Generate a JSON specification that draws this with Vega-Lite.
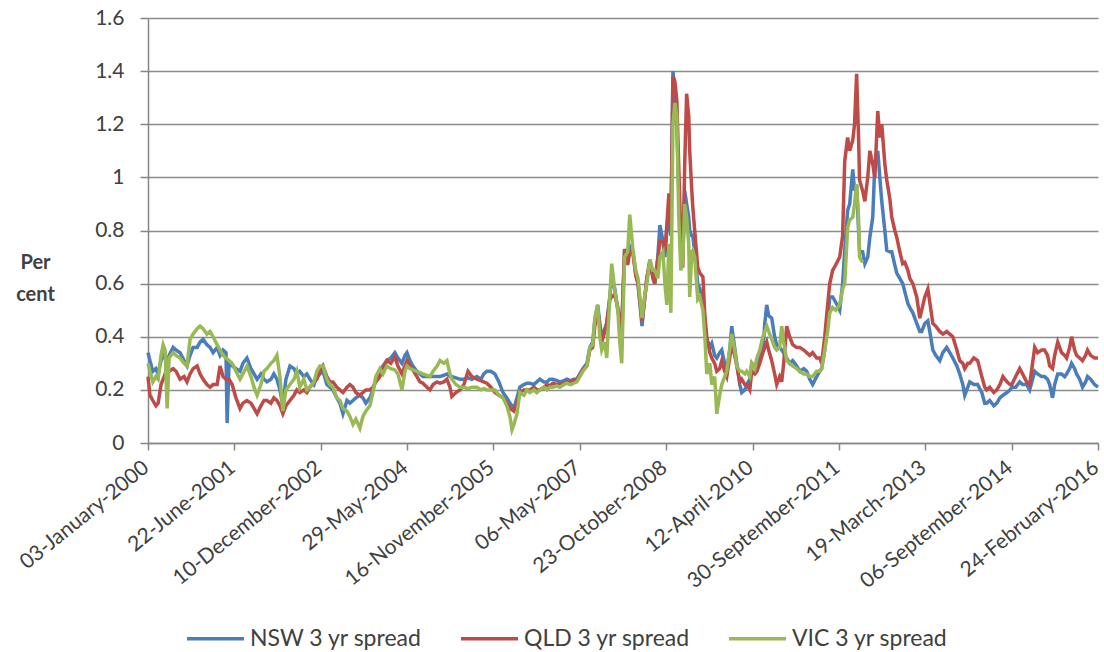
{
"$schema": "https://vega.github.io/schema/vega-lite/v6.json",
"width": 950, "height": 425,
"autosize": "none",
"padding": {"left": 148, "top": 18, "right": 6, "bottom": 209},
"background": "white",
"config": {"font": "Lato", "view": {"stroke": null}},
"datasets": {
"NSW": [
{"d":"2000-01-03","v":0.34},{"d":"2000-01-15","v":0.31},{"d":"2000-02-02","v":0.27},{"d":"2000-02-21","v":0.28},{"d":"2000-03-06","v":0.26},{"d":"2000-03-24","v":0.31},{"d":"2000-04-06","v":0.33},{"d":"2000-04-18","v":0.32},{"d":"2000-05-01","v":0.30},{"d":"2000-05-13","v":0.33},{"d":"2000-06-07","v":0.36},{"d":"2000-06-25","v":0.35},{"d":"2000-07-20","v":0.34},{"d":"2000-08-14","v":0.31},{"d":"2000-09-01","v":0.29},{"d":"2000-09-20","v":0.33},{"d":"2000-10-09","v":0.36},{"d":"2000-11-03","v":0.36},{"d":"2000-11-21","v":0.38},{"d":"2000-12-10","v":0.39},
{"d":"2001-01-03","v":0.37},{"d":"2001-01-22","v":0.36},{"d":"2001-02-10","v":0.34},{"d":"2001-03-07","v":0.36},{"d":"2001-03-25","v":0.33},{"d":"2001-04-13","v":0.35},{"d":"2001-05-01","v":0.34},{"d":"2001-05-08","v":0.075},{"d":"2001-05-20","v":0.30},{"d":"2001-06-08","v":0.29},{"d":"2001-07-02","v":0.28},{"d":"2001-07-27","v":0.27},{"d":"2001-08-14","v":0.30},{"d":"2001-09-08","v":0.32},{"d":"2001-10-03","v":0.28},{"d":"2001-10-22","v":0.26},{"d":"2001-11-10","v":0.24},{"d":"2001-12-04","v":0.26},{"d":"2001-12-23","v":0.24},
{"d":"2002-01-10","v":0.23},{"d":"2002-02-04","v":0.24},{"d":"2002-02-22","v":0.26},{"d":"2002-03-13","v":0.24},{"d":"2002-04-01","v":0.20},{"d":"2002-04-19","v":0.14},{"d":"2002-05-08","v":0.24},{"d":"2002-06-02","v":0.29},{"d":"2002-06-27","v":0.28},{"d":"2002-07-15","v":0.26},{"d":"2002-08-02","v":0.27},{"d":"2002-08-27","v":0.25},{"d":"2002-09-15","v":0.26},{"d":"2002-10-04","v":0.24},{"d":"2002-10-29","v":0.22},{"d":"2002-11-16","v":0.25},{"d":"2002-12-05","v":0.26},{"d":"2002-12-24","v":0.27},
{"d":"2003-01-17","v":0.22},{"d":"2003-02-05","v":0.21},{"d":"2003-02-24","v":0.20},{"d":"2003-03-20","v":0.17},{"d":"2003-04-08","v":0.15},{"d":"2003-04-27","v":0.11},{"d":"2003-05-22","v":0.16},{"d":"2003-06-09","v":0.15},{"d":"2003-06-28","v":0.16},{"d":"2003-07-16","v":0.17},{"d":"2003-08-10","v":0.18},{"d":"2003-08-29","v":0.17},{"d":"2003-09-16","v":0.15},{"d":"2003-10-11","v":0.17},{"d":"2003-10-30","v":0.20},{"d":"2003-11-17","v":0.24},{"d":"2003-12-12","v":0.27},{"d":"2003-12-31","v":0.29},
{"d":"2004-01-24","v":0.31},{"d":"2004-02-18","v":0.32},{"d":"2004-03-14","v":0.34},{"d":"2004-04-02","v":0.32},{"d":"2004-04-27","v":0.30},{"d":"2004-05-16","v":0.33},{"d":"2004-05-28","v":0.34},{"d":"2004-06-16","v":0.31},{"d":"2004-07-04","v":0.29},{"d":"2004-07-29","v":0.27},{"d":"2004-08-17","v":0.26},{"d":"2004-09-04","v":0.25},{"d":"2004-09-29","v":0.25},{"d":"2004-10-18","v":0.25},{"d":"2004-11-06","v":0.25},{"d":"2004-12-01","v":0.25},{"d":"2004-12-19","v":0.25},
{"d":"2005-01-12","v":0.255},{"d":"2005-01-31","v":0.26},{"d":"2005-02-19","v":0.25},{"d":"2005-03-03","v":0.25},{"d":"2005-03-28","v":0.245},{"d":"2005-04-22","v":0.24},{"d":"2005-05-17","v":0.24},{"d":"2005-06-11","v":0.245},{"d":"2005-07-05","v":0.24},{"d":"2005-08-05","v":0.25},{"d":"2005-08-30","v":0.24},{"d":"2005-09-17","v":0.26},{"d":"2005-10-06","v":0.27},{"d":"2005-10-31","v":0.27},{"d":"2005-11-25","v":0.26},{"d":"2005-12-20","v":0.23},
{"d":"2006-01-14","v":0.19},{"d":"2006-02-07","v":0.17},{"d":"2006-02-26","v":0.15},{"d":"2006-03-11","v":0.14},{"d":"2006-03-23","v":0.13},{"d":"2006-04-11","v":0.17},{"d":"2006-04-29","v":0.21},{"d":"2006-05-24","v":0.22},{"d":"2006-06-12","v":0.225},{"d":"2006-06-30","v":0.225},{"d":"2006-07-25","v":0.22},{"d":"2006-08-12","v":0.23},{"d":"2006-08-31","v":0.24},{"d":"2006-09-25","v":0.23},{"d":"2006-10-14","v":0.23},{"d":"2006-11-01","v":0.24},{"d":"2006-11-20","v":0.24},{"d":"2006-12-15","v":0.235},
{"d":"2007-01-02","v":0.23},{"d":"2007-01-27","v":0.235},{"d":"2007-02-14","v":0.24},{"d":"2007-03-11","v":0.235},{"d":"2007-03-29","v":0.24},{"d":"2007-04-17","v":0.24},{"d":"2007-05-06","v":0.26},{"d":"2007-05-25","v":0.28},{"d":"2007-06-19","v":0.30},{"d":"2007-07-07","v":0.36},{"d":"2007-07-25","v":0.38},{"d":"2007-08-07","v":0.46},{"d":"2007-08-25","v":0.52},{"d":"2007-09-07","v":0.45},{"d":"2007-09-19","v":0.40},{"d":"2007-10-08","v":0.43},{"d":"2007-10-20","v":0.45},{"d":"2007-11-08","v":0.55},{"d":"2007-11-20","v":0.62},{"d":"2007-12-09","v":0.58},{"d":"2007-12-28","v":0.50},
{"d":"2008-01-09","v":0.46},{"d":"2008-01-21","v":0.42},{"d":"2008-02-08","v":0.73},{"d":"2008-02-27","v":0.68},{"d":"2008-03-11","v":0.74},{"d":"2008-03-30","v":0.72},{"d":"2008-04-17","v":0.64},{"d":"2008-05-01","v":0.60},{"d":"2008-05-26","v":0.44},{"d":"2008-06-13","v":0.55},{"d":"2008-06-25","v":0.62},{"d":"2008-07-14","v":0.68},{"d":"2008-08-01","v":0.63},{"d":"2008-08-13","v":0.60},{"d":"2008-09-01","v":0.70},{"d":"2008-09-14","v":0.82},{"d":"2008-10-03","v":0.76},{"d":"2008-10-15","v":0.70},{"d":"2008-10-27","v":0.80},{"d":"2008-11-09","v":0.85},{"d":"2008-11-21","v":0.78},{"d":"2008-12-04","v":1.40},{"d":"2008-12-16","v":1.32},{"d":"2008-12-28","v":1.20},
{"d":"2009-01-09","v":0.95},{"d":"2009-01-22","v":0.70},{"d":"2009-02-03","v":0.70},{"d":"2009-02-15","v":0.95},{"d":"2009-02-27","v":0.90},{"d":"2009-03-12","v":0.85},{"d":"2009-03-18","v":0.80},{"d":"2009-03-31","v":0.78},{"d":"2009-04-06","v":0.78},{"d":"2009-04-18","v":0.72},{"d":"2009-05-07","v":0.60},{"d":"2009-05-20","v":0.58},{"d":"2009-06-08","v":0.54},{"d":"2009-06-20","v":0.45},{"d":"2009-07-02","v":0.39},{"d":"2009-07-21","v":0.36},{"d":"2009-08-02","v":0.375},{"d":"2009-08-20","v":0.33},{"d":"2009-09-02","v":0.32},{"d":"2009-09-20","v":0.34},{"d":"2009-10-03","v":0.35},{"d":"2009-10-21","v":0.30},{"d":"2009-11-03","v":0.27},{"d":"2009-11-21","v":0.35},{"d":"2009-12-04","v":0.44},{"d":"2009-12-22","v":0.36},
{"d":"2010-01-04","v":0.30},{"d":"2010-01-23","v":0.22},{"d":"2010-02-04","v":0.19},{"d":"2010-02-23","v":0.20},{"d":"2010-03-07","v":0.22},{"d":"2010-03-26","v":0.24},{"d":"2010-04-07","v":0.30},{"d":"2010-04-26","v":0.29},{"d":"2010-05-09","v":0.30},{"d":"2010-05-27","v":0.32},{"d":"2010-06-15","v":0.35},{"d":"2010-06-27","v":0.45},{"d":"2010-07-09","v":0.52},{"d":"2010-07-21","v":0.48},{"d":"2010-08-09","v":0.47},{"d":"2010-08-27","v":0.40},{"d":"2010-09-09","v":0.37},{"d":"2010-09-27","v":0.36},{"d":"2010-10-10","v":0.35},{"d":"2010-10-22","v":0.34},{"d":"2010-11-10","v":0.32},{"d":"2010-11-28","v":0.30},{"d":"2010-12-17","v":0.31},
{"d":"2011-01-11","v":0.29},{"d":"2011-01-30","v":0.27},{"d":"2011-02-24","v":0.28},{"d":"2011-03-14","v":0.27},{"d":"2011-04-02","v":0.24},{"d":"2011-04-20","v":0.22},{"d":"2011-05-15","v":0.25},{"d":"2011-06-03","v":0.27},{"d":"2011-06-15","v":0.28},{"d":"2011-07-04","v":0.35},{"d":"2011-07-22","v":0.45},{"d":"2011-08-04","v":0.55},{"d":"2011-08-22","v":0.55},{"d":"2011-09-10","v":0.53},{"d":"2011-10-05","v":0.50},{"d":"2011-10-23","v":0.60},{"d":"2011-11-05","v":0.725},{"d":"2011-11-23","v":0.875},{"d":"2011-12-06","v":0.90},{"d":"2011-12-25","v":1.03},
{"d":"2012-01-05","v":0.95},{"d":"2012-01-18","v":0.97},{"d":"2012-01-30","v":0.80},{"d":"2012-02-05","v":0.725},{"d":"2012-02-24","v":0.72},{"d":"2012-03-09","v":0.675},{"d":"2012-03-27","v":0.70},{"d":"2012-04-09","v":0.775},{"d":"2012-04-27","v":0.85},{"d":"2012-05-10","v":1.05},{"d":"2012-05-28","v":1.10},{"d":"2012-06-10","v":1.00},{"d":"2012-06-22","v":0.91},{"d":"2012-07-11","v":0.80},{"d":"2012-07-23","v":0.725},{"d":"2012-08-11","v":0.72},{"d":"2012-08-23","v":0.72},{"d":"2012-09-11","v":0.67},{"d":"2012-09-23","v":0.64},{"d":"2012-10-12","v":0.62},{"d":"2012-10-30","v":0.60},{"d":"2012-11-12","v":0.57},{"d":"2012-12-01","v":0.525},{"d":"2012-12-13","v":0.51},
{"d":"2013-01-01","v":0.49},{"d":"2013-01-25","v":0.45},{"d":"2013-02-13","v":0.42},{"d":"2013-02-25","v":0.42},{"d":"2013-03-16","v":0.45},{"d":"2013-04-04","v":0.46},{"d":"2013-04-16","v":0.42},{"d":"2013-05-05","v":0.35},{"d":"2013-05-23","v":0.33},{"d":"2013-06-17","v":0.31},{"d":"2013-07-06","v":0.34},{"d":"2013-07-30","v":0.36},{"d":"2013-08-18","v":0.34},{"d":"2013-09-06","v":0.32},{"d":"2013-10-01","v":0.29},{"d":"2013-10-19","v":0.26},{"d":"2013-11-07","v":0.22},{"d":"2013-11-19","v":0.18},{"d":"2013-12-08","v":0.21},{"d":"2013-12-20","v":0.23},
{"d":"2014-01-14","v":0.22},{"d":"2014-02-07","v":0.22},{"d":"2014-03-05","v":0.19},{"d":"2014-03-23","v":0.15},{"d":"2014-04-04","v":0.15},{"d":"2014-04-23","v":0.16},{"d":"2014-05-18","v":0.14},{"d":"2014-06-06","v":0.15},{"d":"2014-06-25","v":0.17},{"d":"2014-07-14","v":0.18},{"d":"2014-08-08","v":0.19},{"d":"2014-08-27","v":0.20},{"d":"2014-09-07","v":0.21},{"d":"2014-10-01","v":0.21},{"d":"2014-10-26","v":0.23},{"d":"2014-11-13","v":0.22},{"d":"2014-12-08","v":0.22},{"d":"2014-12-27","v":0.20},
{"d":"2015-01-14","v":0.24},{"d":"2015-01-27","v":0.27},{"d":"2015-02-14","v":0.26},{"d":"2015-03-11","v":0.25},{"d":"2015-03-29","v":0.25},{"d":"2015-04-17","v":0.24},{"d":"2015-04-30","v":0.22},{"d":"2015-05-18","v":0.17},{"d":"2015-05-31","v":0.22},{"d":"2015-06-19","v":0.26},{"d":"2015-07-13","v":0.26},{"d":"2015-08-01","v":0.25},{"d":"2015-08-13","v":0.26},{"d":"2015-09-01","v":0.28},{"d":"2015-09-13","v":0.30},{"d":"2015-10-02","v":0.28},{"d":"2015-10-14","v":0.26},{"d":"2015-11-02","v":0.24},{"d":"2015-11-20","v":0.21},{"d":"2015-12-09","v":0.23},{"d":"2015-12-21","v":0.25},
{"d":"2016-01-09","v":0.24},{"d":"2016-02-03","v":0.22},{"d":"2016-02-24","v":0.21}
],
"QLD": [
{"d":"2000-01-03","v":0.25},{"d":"2000-01-15","v":0.18},{"d":"2000-02-02","v":0.16},{"d":"2000-02-21","v":0.14},{"d":"2000-03-06","v":0.15},{"d":"2000-03-24","v":0.22},{"d":"2000-04-06","v":0.24},{"d":"2000-04-18","v":0.26},{"d":"2000-05-01","v":0.28},{"d":"2000-05-13","v":0.27},{"d":"2000-06-07","v":0.28},{"d":"2000-06-25","v":0.27},{"d":"2000-07-20","v":0.24},{"d":"2000-08-14","v":0.25},{"d":"2000-09-01","v":0.23},{"d":"2000-09-20","v":0.26},{"d":"2000-10-09","v":0.28},{"d":"2000-11-03","v":0.29},{"d":"2000-11-21","v":0.26},{"d":"2000-12-10","v":0.24},
{"d":"2001-01-03","v":0.22},{"d":"2001-01-22","v":0.21},{"d":"2001-02-10","v":0.22},{"d":"2001-03-07","v":0.22},{"d":"2001-03-25","v":0.29},{"d":"2001-04-13","v":0.25},{"d":"2001-05-01","v":0.24},{"d":"2001-05-20","v":0.24},{"d":"2001-06-08","v":0.22},{"d":"2001-07-02","v":0.17},{"d":"2001-07-27","v":0.13},{"d":"2001-08-14","v":0.15},{"d":"2001-09-08","v":0.16},{"d":"2001-10-03","v":0.15},{"d":"2001-10-22","v":0.13},{"d":"2001-11-10","v":0.11},{"d":"2001-12-04","v":0.14},{"d":"2001-12-23","v":0.16},
{"d":"2002-01-10","v":0.16},{"d":"2002-02-04","v":0.15},{"d":"2002-02-22","v":0.17},{"d":"2002-03-13","v":0.16},{"d":"2002-04-01","v":0.14},{"d":"2002-04-19","v":0.11},{"d":"2002-05-08","v":0.14},{"d":"2002-06-02","v":0.16},{"d":"2002-06-27","v":0.18},{"d":"2002-07-15","v":0.20},{"d":"2002-08-02","v":0.19},{"d":"2002-08-27","v":0.20},{"d":"2002-09-15","v":0.19},{"d":"2002-10-04","v":0.21},{"d":"2002-10-29","v":0.23},{"d":"2002-11-16","v":0.24},{"d":"2002-12-05","v":0.27},{"d":"2002-12-24","v":0.29},
{"d":"2003-01-17","v":0.25},{"d":"2003-02-05","v":0.23},{"d":"2003-02-24","v":0.23},{"d":"2003-03-20","v":0.21},{"d":"2003-04-08","v":0.20},{"d":"2003-04-27","v":0.19},{"d":"2003-05-22","v":0.21},{"d":"2003-06-09","v":0.22},{"d":"2003-06-28","v":0.21},{"d":"2003-07-16","v":0.19},{"d":"2003-08-10","v":0.18},{"d":"2003-08-29","v":0.19},{"d":"2003-09-16","v":0.20},{"d":"2003-10-11","v":0.20},{"d":"2003-10-30","v":0.21},{"d":"2003-11-17","v":0.23},{"d":"2003-12-12","v":0.25},{"d":"2003-12-31","v":0.28},
{"d":"2004-01-24","v":0.31},{"d":"2004-02-18","v":0.30},{"d":"2004-03-14","v":0.325},{"d":"2004-04-02","v":0.29},{"d":"2004-04-27","v":0.26},{"d":"2004-05-16","v":0.29},{"d":"2004-05-28","v":0.31},{"d":"2004-06-16","v":0.29},{"d":"2004-07-04","v":0.275},{"d":"2004-07-29","v":0.25},{"d":"2004-08-17","v":0.23},{"d":"2004-09-04","v":0.225},{"d":"2004-09-29","v":0.21},{"d":"2004-10-18","v":0.20},{"d":"2004-11-06","v":0.22},{"d":"2004-12-01","v":0.23},{"d":"2004-12-19","v":0.225},
{"d":"2005-01-12","v":0.23},{"d":"2005-01-31","v":0.24},{"d":"2005-02-19","v":0.21},{"d":"2005-03-03","v":0.175},{"d":"2005-03-28","v":0.19},{"d":"2005-04-22","v":0.20},{"d":"2005-05-17","v":0.22},{"d":"2005-06-11","v":0.27},{"d":"2005-07-05","v":0.25},{"d":"2005-08-05","v":0.24},{"d":"2005-08-30","v":0.235},{"d":"2005-09-17","v":0.23},{"d":"2005-10-06","v":0.225},{"d":"2005-10-31","v":0.21},{"d":"2005-11-25","v":0.19},{"d":"2005-12-20","v":0.18},
{"d":"2006-01-14","v":0.17},{"d":"2006-02-07","v":0.15},{"d":"2006-02-26","v":0.13},{"d":"2006-03-11","v":0.125},{"d":"2006-03-23","v":0.12},{"d":"2006-04-11","v":0.15},{"d":"2006-04-29","v":0.19},{"d":"2006-05-24","v":0.20},{"d":"2006-06-12","v":0.20},{"d":"2006-06-30","v":0.20},{"d":"2006-07-25","v":0.21},{"d":"2006-08-12","v":0.20},{"d":"2006-08-31","v":0.20},{"d":"2006-09-25","v":0.21},{"d":"2006-10-14","v":0.22},{"d":"2006-11-01","v":0.215},{"d":"2006-11-20","v":0.225},{"d":"2006-12-15","v":0.22},
{"d":"2007-01-02","v":0.22},{"d":"2007-01-27","v":0.225},{"d":"2007-02-14","v":0.23},{"d":"2007-03-11","v":0.23},{"d":"2007-03-29","v":0.235},{"d":"2007-04-17","v":0.24},{"d":"2007-05-06","v":0.255},{"d":"2007-05-25","v":0.275},{"d":"2007-06-19","v":0.29},{"d":"2007-07-07","v":0.35},{"d":"2007-07-25","v":0.36},{"d":"2007-08-07","v":0.44},{"d":"2007-08-25","v":0.50},{"d":"2007-09-07","v":0.44},{"d":"2007-09-19","v":0.38},{"d":"2007-10-08","v":0.42},{"d":"2007-10-20","v":0.45},{"d":"2007-11-08","v":0.54},{"d":"2007-11-20","v":0.55},{"d":"2007-12-09","v":0.56},{"d":"2007-12-28","v":0.51},
{"d":"2008-01-09","v":0.46},{"d":"2008-01-21","v":0.44},{"d":"2008-02-08","v":0.73},{"d":"2008-02-27","v":0.67},{"d":"2008-03-11","v":0.72},{"d":"2008-03-30","v":0.72},{"d":"2008-04-17","v":0.63},{"d":"2008-05-01","v":0.60},{"d":"2008-05-26","v":0.46},{"d":"2008-06-13","v":0.55},{"d":"2008-06-25","v":0.62},{"d":"2008-07-14","v":0.69},{"d":"2008-08-01","v":0.62},{"d":"2008-08-13","v":0.60},{"d":"2008-09-01","v":0.69},{"d":"2008-09-14","v":0.76},{"d":"2008-10-03","v":0.76},{"d":"2008-10-15","v":0.72},{"d":"2008-10-27","v":0.82},{"d":"2008-11-09","v":0.94},{"d":"2008-11-21","v":0.80},{"d":"2008-12-04","v":1.38},{"d":"2008-12-16","v":1.36},{"d":"2008-12-28","v":1.29},
{"d":"2009-01-09","v":1.04},{"d":"2009-01-22","v":0.78},{"d":"2009-02-03","v":0.66},{"d":"2009-02-15","v":1.05},{"d":"2009-02-27","v":1.315},{"d":"2009-03-12","v":1.23},{"d":"2009-03-18","v":1.10},{"d":"2009-03-31","v":0.95},{"d":"2009-04-06","v":0.89},{"d":"2009-04-18","v":0.80},{"d":"2009-05-07","v":0.66},{"d":"2009-05-20","v":0.64},{"d":"2009-06-08","v":0.625},{"d":"2009-06-20","v":0.48},{"d":"2009-07-02","v":0.40},{"d":"2009-07-21","v":0.34},{"d":"2009-08-02","v":0.32},{"d":"2009-08-20","v":0.30},{"d":"2009-09-02","v":0.27},{"d":"2009-09-20","v":0.28},{"d":"2009-10-03","v":0.31},{"d":"2009-10-21","v":0.27},{"d":"2009-11-03","v":0.25},{"d":"2009-11-21","v":0.32},{"d":"2009-12-04","v":0.37},{"d":"2009-12-22","v":0.33},
{"d":"2010-01-04","v":0.29},{"d":"2010-01-23","v":0.23},{"d":"2010-02-04","v":0.24},{"d":"2010-02-23","v":0.22},{"d":"2010-03-07","v":0.22},{"d":"2010-03-26","v":0.20},{"d":"2010-04-07","v":0.27},{"d":"2010-04-26","v":0.26},{"d":"2010-05-09","v":0.27},{"d":"2010-05-27","v":0.30},{"d":"2010-06-15","v":0.34},{"d":"2010-06-27","v":0.36},{"d":"2010-07-09","v":0.38},{"d":"2010-07-21","v":0.35},{"d":"2010-08-09","v":0.31},{"d":"2010-08-27","v":0.26},{"d":"2010-09-09","v":0.22},{"d":"2010-09-27","v":0.25},{"d":"2010-10-10","v":0.23},{"d":"2010-10-22","v":0.30},{"d":"2010-11-10","v":0.44},{"d":"2010-11-28","v":0.40},{"d":"2010-12-17","v":0.37},
{"d":"2011-01-11","v":0.36},{"d":"2011-01-30","v":0.36},{"d":"2011-02-24","v":0.35},{"d":"2011-03-14","v":0.34},{"d":"2011-04-02","v":0.33},{"d":"2011-04-20","v":0.34},{"d":"2011-05-15","v":0.32},{"d":"2011-06-03","v":0.32},{"d":"2011-06-15","v":0.30},{"d":"2011-07-04","v":0.40},{"d":"2011-07-22","v":0.52},{"d":"2011-08-04","v":0.60},{"d":"2011-08-22","v":0.65},{"d":"2011-09-10","v":0.67},{"d":"2011-10-05","v":0.70},{"d":"2011-10-23","v":0.78},{"d":"2011-11-05","v":1.06},{"d":"2011-11-23","v":1.15},{"d":"2011-12-06","v":1.10},{"d":"2011-12-25","v":1.14},
{"d":"2012-01-05","v":1.20},{"d":"2012-01-18","v":1.39},{"d":"2012-01-30","v":1.15},{"d":"2012-02-05","v":0.99},{"d":"2012-02-24","v":0.95},{"d":"2012-03-09","v":0.91},{"d":"2012-03-27","v":1.00},{"d":"2012-04-09","v":1.10},{"d":"2012-04-27","v":1.05},{"d":"2012-05-10","v":1.00},{"d":"2012-05-28","v":1.25},{"d":"2012-06-10","v":1.15},{"d":"2012-06-22","v":1.20},{"d":"2012-07-11","v":1.05},{"d":"2012-07-23","v":0.99},{"d":"2012-08-11","v":0.92},{"d":"2012-08-23","v":0.85},{"d":"2012-09-11","v":0.80},{"d":"2012-09-23","v":0.775},{"d":"2012-10-12","v":0.72},{"d":"2012-10-30","v":0.675},{"d":"2012-11-12","v":0.68},{"d":"2012-12-01","v":0.65},{"d":"2012-12-13","v":0.62},
{"d":"2013-01-01","v":0.60},{"d":"2013-01-25","v":0.55},{"d":"2013-02-13","v":0.47},{"d":"2013-02-25","v":0.50},{"d":"2013-03-16","v":0.55},{"d":"2013-04-04","v":0.58},{"d":"2013-04-16","v":0.53},{"d":"2013-05-05","v":0.45},{"d":"2013-05-23","v":0.44},{"d":"2013-06-17","v":0.42},{"d":"2013-07-06","v":0.41},{"d":"2013-07-30","v":0.42},{"d":"2013-08-18","v":0.41},{"d":"2013-09-06","v":0.40},{"d":"2013-10-01","v":0.35},{"d":"2013-10-19","v":0.31},{"d":"2013-11-07","v":0.30},{"d":"2013-11-19","v":0.28},{"d":"2013-12-08","v":0.30},{"d":"2013-12-20","v":0.30},
{"d":"2014-01-14","v":0.32},{"d":"2014-02-07","v":0.31},{"d":"2014-03-05","v":0.25},{"d":"2014-03-23","v":0.21},{"d":"2014-04-04","v":0.20},{"d":"2014-04-23","v":0.21},{"d":"2014-05-18","v":0.19},{"d":"2014-06-06","v":0.20},{"d":"2014-06-25","v":0.22},{"d":"2014-07-14","v":0.25},{"d":"2014-08-08","v":0.23},{"d":"2014-08-27","v":0.22},{"d":"2014-09-07","v":0.22},{"d":"2014-10-01","v":0.25},{"d":"2014-10-26","v":0.28},{"d":"2014-11-13","v":0.26},{"d":"2014-12-08","v":0.23},{"d":"2014-12-27","v":0.22},
{"d":"2015-01-14","v":0.30},{"d":"2015-01-27","v":0.36},{"d":"2015-02-14","v":0.34},{"d":"2015-03-11","v":0.35},{"d":"2015-03-29","v":0.35},{"d":"2015-04-17","v":0.33},{"d":"2015-04-30","v":0.29},{"d":"2015-05-18","v":0.28},{"d":"2015-05-31","v":0.33},{"d":"2015-06-19","v":0.38},{"d":"2015-07-13","v":0.34},{"d":"2015-08-01","v":0.33},{"d":"2015-08-13","v":0.32},{"d":"2015-09-01","v":0.36},{"d":"2015-09-13","v":0.40},{"d":"2015-10-02","v":0.35},{"d":"2015-10-14","v":0.33},{"d":"2015-11-02","v":0.32},{"d":"2015-11-20","v":0.31},{"d":"2015-12-09","v":0.33},{"d":"2015-12-21","v":0.35},
{"d":"2016-01-09","v":0.33},{"d":"2016-02-03","v":0.32},{"d":"2016-02-24","v":0.32}
],
"VIC": [
{"d":"2000-01-03","v":0.30},{"d":"2000-01-15","v":0.27},{"d":"2000-02-02","v":0.23},{"d":"2000-02-21","v":0.25},{"d":"2000-03-06","v":0.24},{"d":"2000-03-24","v":0.33},{"d":"2000-04-06","v":0.37},{"d":"2000-04-18","v":0.35},{"d":"2000-05-01","v":0.13},{"d":"2000-05-13","v":0.32},{"d":"2000-06-07","v":0.34},{"d":"2000-06-25","v":0.33},{"d":"2000-07-20","v":0.32},{"d":"2000-08-14","v":0.30},{"d":"2000-09-01","v":0.29},{"d":"2000-09-20","v":0.39},{"d":"2000-10-09","v":0.41},{"d":"2000-11-03","v":0.43},{"d":"2000-11-21","v":0.44},{"d":"2000-12-10","v":0.43},
{"d":"2001-01-03","v":0.41},{"d":"2001-01-22","v":0.42},{"d":"2001-02-10","v":0.40},{"d":"2001-03-07","v":0.37},{"d":"2001-03-25","v":0.35},{"d":"2001-04-13","v":0.33},{"d":"2001-05-01","v":0.32},{"d":"2001-05-20","v":0.31},{"d":"2001-06-08","v":0.30},{"d":"2001-07-02","v":0.27},{"d":"2001-07-27","v":0.24},{"d":"2001-08-14","v":0.26},{"d":"2001-09-08","v":0.29},{"d":"2001-10-03","v":0.25},{"d":"2001-10-22","v":0.21},{"d":"2001-11-10","v":0.18},{"d":"2001-12-04","v":0.22},{"d":"2001-12-23","v":0.27},
{"d":"2002-01-10","v":0.28},{"d":"2002-02-04","v":0.30},{"d":"2002-02-22","v":0.31},{"d":"2002-03-13","v":0.33},{"d":"2002-04-01","v":0.25},{"d":"2002-04-19","v":0.12},{"d":"2002-05-08","v":0.20},{"d":"2002-06-02","v":0.22},{"d":"2002-06-27","v":0.24},{"d":"2002-07-15","v":0.27},{"d":"2002-08-02","v":0.21},{"d":"2002-08-27","v":0.24},{"d":"2002-09-15","v":0.20},{"d":"2002-10-04","v":0.21},{"d":"2002-10-29","v":0.23},{"d":"2002-11-16","v":0.27},{"d":"2002-12-05","v":0.29},{"d":"2002-12-24","v":0.29},
{"d":"2003-01-17","v":0.24},{"d":"2003-02-05","v":0.22},{"d":"2003-02-24","v":0.21},{"d":"2003-03-20","v":0.17},{"d":"2003-04-08","v":0.16},{"d":"2003-04-27","v":0.13},{"d":"2003-05-22","v":0.12},{"d":"2003-06-09","v":0.10},{"d":"2003-06-28","v":0.07},{"d":"2003-07-16","v":0.09},{"d":"2003-08-10","v":0.056},{"d":"2003-08-29","v":0.10},{"d":"2003-09-16","v":0.12},{"d":"2003-10-11","v":0.14},{"d":"2003-10-30","v":0.19},{"d":"2003-11-17","v":0.25},{"d":"2003-12-12","v":0.28},{"d":"2003-12-31","v":0.26},
{"d":"2004-01-24","v":0.29},{"d":"2004-02-18","v":0.28},{"d":"2004-03-14","v":0.275},{"d":"2004-04-02","v":0.26},{"d":"2004-04-27","v":0.20},{"d":"2004-05-16","v":0.27},{"d":"2004-05-28","v":0.29},{"d":"2004-06-16","v":0.28},{"d":"2004-07-04","v":0.275},{"d":"2004-07-29","v":0.27},{"d":"2004-08-17","v":0.265},{"d":"2004-09-04","v":0.26},{"d":"2004-09-29","v":0.255},{"d":"2004-10-18","v":0.25},{"d":"2004-11-06","v":0.27},{"d":"2004-12-01","v":0.29},{"d":"2004-12-19","v":0.31},
{"d":"2005-01-12","v":0.30},{"d":"2005-01-31","v":0.31},{"d":"2005-02-19","v":0.26},{"d":"2005-03-03","v":0.24},{"d":"2005-03-28","v":0.22},{"d":"2005-04-22","v":0.21},{"d":"2005-05-17","v":0.21},{"d":"2005-06-11","v":0.205},{"d":"2005-07-05","v":0.21},{"d":"2005-08-05","v":0.21},{"d":"2005-08-30","v":0.20},{"d":"2005-09-17","v":0.205},{"d":"2005-10-06","v":0.20},{"d":"2005-10-31","v":0.20},{"d":"2005-11-25","v":0.20},{"d":"2005-12-20","v":0.18},
{"d":"2006-01-14","v":0.17},{"d":"2006-02-07","v":0.14},{"d":"2006-02-26","v":0.10},{"d":"2006-03-11","v":0.05},{"d":"2006-03-23","v":0.07},{"d":"2006-04-11","v":0.11},{"d":"2006-04-29","v":0.19},{"d":"2006-05-24","v":0.18},{"d":"2006-06-12","v":0.20},{"d":"2006-06-30","v":0.19},{"d":"2006-07-25","v":0.20},{"d":"2006-08-12","v":0.19},{"d":"2006-08-31","v":0.20},{"d":"2006-09-25","v":0.21},{"d":"2006-10-14","v":0.20},{"d":"2006-11-01","v":0.21},{"d":"2006-11-20","v":0.21},{"d":"2006-12-15","v":0.215},
{"d":"2007-01-02","v":0.21},{"d":"2007-01-27","v":0.22},{"d":"2007-02-14","v":0.225},{"d":"2007-03-11","v":0.22},{"d":"2007-03-29","v":0.225},{"d":"2007-04-17","v":0.23},{"d":"2007-05-06","v":0.25},{"d":"2007-05-25","v":0.27},{"d":"2007-06-19","v":0.29},{"d":"2007-07-07","v":0.36},{"d":"2007-07-25","v":0.37},{"d":"2007-08-07","v":0.47},{"d":"2007-08-25","v":0.52},{"d":"2007-09-07","v":0.40},{"d":"2007-09-19","v":0.35},{"d":"2007-10-08","v":0.38},{"d":"2007-10-20","v":0.32},{"d":"2007-11-08","v":0.55},{"d":"2007-11-20","v":0.675},{"d":"2007-12-09","v":0.575},{"d":"2007-12-28","v":0.50},
{"d":"2008-01-09","v":0.38},{"d":"2008-01-21","v":0.30},{"d":"2008-02-08","v":0.70},{"d":"2008-02-27","v":0.72},{"d":"2008-03-11","v":0.86},{"d":"2008-03-30","v":0.73},{"d":"2008-04-17","v":0.65},{"d":"2008-05-01","v":0.62},{"d":"2008-05-26","v":0.47},{"d":"2008-06-13","v":0.56},{"d":"2008-06-25","v":0.60},{"d":"2008-07-14","v":0.69},{"d":"2008-08-01","v":0.65},{"d":"2008-08-13","v":0.65},{"d":"2008-09-01","v":0.62},{"d":"2008-09-14","v":0.70},{"d":"2008-10-03","v":0.72},{"d":"2008-10-15","v":0.60},{"d":"2008-10-27","v":0.52},{"d":"2008-11-09","v":0.75},{"d":"2008-11-21","v":0.49},{"d":"2008-12-04","v":1.20},{"d":"2008-12-16","v":1.28},{"d":"2008-12-28","v":1.23},
{"d":"2009-01-09","v":0.85},{"d":"2009-01-22","v":0.65},{"d":"2009-02-03","v":0.68},{"d":"2009-02-15","v":0.90},{"d":"2009-02-27","v":0.85},{"d":"2009-03-12","v":0.75},{"d":"2009-03-18","v":0.55},{"d":"2009-03-31","v":0.72},{"d":"2009-04-06","v":0.725},{"d":"2009-04-18","v":0.70},{"d":"2009-05-07","v":0.54},{"d":"2009-05-20","v":0.55},{"d":"2009-06-08","v":0.50},{"d":"2009-06-20","v":0.40},{"d":"2009-07-02","v":0.26},{"d":"2009-07-21","v":0.30},{"d":"2009-08-02","v":0.22},{"d":"2009-08-20","v":0.25},{"d":"2009-09-02","v":0.11},{"d":"2009-09-20","v":0.18},{"d":"2009-10-03","v":0.22},{"d":"2009-10-21","v":0.25},{"d":"2009-11-03","v":0.27},{"d":"2009-11-21","v":0.35},{"d":"2009-12-04","v":0.41},{"d":"2009-12-22","v":0.35},
{"d":"2010-01-04","v":0.29},{"d":"2010-01-23","v":0.27},{"d":"2010-02-04","v":0.27},{"d":"2010-02-23","v":0.26},{"d":"2010-03-07","v":0.27},{"d":"2010-03-26","v":0.25},{"d":"2010-04-07","v":0.30},{"d":"2010-04-26","v":0.28},{"d":"2010-05-09","v":0.32},{"d":"2010-05-27","v":0.35},{"d":"2010-06-15","v":0.40},{"d":"2010-06-27","v":0.42},{"d":"2010-07-09","v":0.44},{"d":"2010-07-21","v":0.42},{"d":"2010-08-09","v":0.39},{"d":"2010-08-27","v":0.36},{"d":"2010-09-09","v":0.35},{"d":"2010-09-27","v":0.36},{"d":"2010-10-10","v":0.44},{"d":"2010-10-22","v":0.38},{"d":"2010-11-10","v":0.31},{"d":"2010-11-28","v":0.30},{"d":"2010-12-17","v":0.29},
{"d":"2011-01-11","v":0.28},{"d":"2011-01-30","v":0.27},{"d":"2011-02-24","v":0.26},{"d":"2011-03-14","v":0.26},{"d":"2011-04-02","v":0.25},{"d":"2011-04-20","v":0.25},{"d":"2011-05-15","v":0.27},{"d":"2011-06-03","v":0.27},{"d":"2011-06-15","v":0.28},{"d":"2011-07-04","v":0.35},{"d":"2011-07-22","v":0.42},{"d":"2011-08-04","v":0.49},{"d":"2011-08-22","v":0.51},{"d":"2011-09-10","v":0.50},{"d":"2011-10-05","v":0.52},{"d":"2011-10-23","v":0.58},{"d":"2011-11-05","v":0.60},{"d":"2011-11-23","v":0.81},{"d":"2011-12-06","v":0.84},{"d":"2011-12-25","v":0.85},
{"d":"2012-01-05","v":0.90},{"d":"2012-01-18","v":0.975},{"d":"2012-01-30","v":0.85},{"d":"2012-02-05","v":0.70},{"d":"2012-02-24","v":0.68}
]
},
"encoding": {
  "x": {"field": "d", "type": "temporal", "title": null,
    "scale": {"type": "utc", "domain": [{"year": 2000, "month": 1, "date": 3, "utc": true}, {"year": 2016, "month": 2, "date": 24, "utc": true}]},
    "axis": {
      "values": [
        {"year": 2000, "month": 1, "date": 3, "utc": true},
        {"year": 2001, "month": 6, "date": 22, "utc": true},
        {"year": 2002, "month": 12, "date": 10, "utc": true},
        {"year": 2004, "month": 5, "date": 29, "utc": true},
        {"year": 2005, "month": 11, "date": 16, "utc": true},
        {"year": 2007, "month": 5, "date": 6, "utc": true},
        {"year": 2008, "month": 10, "date": 23, "utc": true},
        {"year": 2010, "month": 4, "date": 12, "utc": true},
        {"year": 2011, "month": 9, "date": 30, "utc": true},
        {"year": 2013, "month": 3, "date": 19, "utc": true},
        {"year": 2014, "month": 9, "date": 6, "utc": true},
        {"year": 2016, "month": 2, "date": 24, "utc": true}
      ],
      "format": "%d-%B-%Y",
      "labelAngle": -39,
      "labelAlign": "right",
      "labelBaseline": "middle",
      "labelFont": "Lato",
      "labelFontSize": 21,
      "labelColor": "#404040",
      "labelFlush": false,
      "labelOverlap": false,
      "labelBound": false,
      "labelLimit": 400,
      "labelOffset": -2,
      "labelPadding": 15,
      "tickSize": 7,
      "tickWidth": 1.5,
      "tickColor": "#868686",
      "domainColor": "#868686",
      "domainWidth": 1.5,
      "grid": false
    }
  },
  "y": {"field": "v", "type": "quantitative",
    "scale": {"domain": [0, 1.6], "nice": false, "zero": true},
    "axis": {
      "values": [0, 0.2, 0.4, 0.6, 0.8, 1, 1.2, 1.4, 1.6],
      "format": "~g",
      "labelFont": "Lato",
      "labelFontSize": 21,
      "labelColor": "#404040",
      "labelPadding": 16,
      "tickSize": 8,
      "tickWidth": 1.5,
      "tickColor": "#868686",
      "domainColor": "#868686",
      "domainWidth": 1.5,
      "grid": true,
      "gridColor": "#8c8c8c",
      "gridWidth": 1.5,
      "title": ["Per", "cent"],
      "titleAngle": 0,
      "titleFont": "Lato",
      "titleFontSize": 20,
      "titleFontWeight": "bold",
      "titleColor": "#404040",
      "titleAlign": "center",
      "titleBaseline": "alphabetic",
      "titleX": -113,
      "titleY": 250,
      "titleLineHeight": 32
    }
  }
},
"layer": [
  {"data": {"name": "NSW"}, "mark": {"type": "line", "strokeWidth": 3.5},
   "encoding": {"color": {"datum": "NSW 3 yr spread", "type": "nominal",
     "scale": {"domain": ["NSW 3 yr spread", "QLD 3 yr spread", "VIC 3 yr spread"], "range": ["#4A7EBB", "#BE4B48", "#98B954"]},
     "legend": {"orient": "none", "legendX": 37, "legendY": 590, "direction": "horizontal", "title": null,
       "symbolType": "stroke", "symbolSize": 3249, "symbolStrokeWidth": 3.5, "labelFont": "Lato", "labelFontSize": 23,
       "labelColor": "#404040", "columnPadding": 31, "labelOffset": 4, "padding": 0, "labelLimit": 400}}}},
  {"data": {"name": "QLD"}, "mark": {"type": "line", "strokeWidth": 3.5},
   "encoding": {"color": {"datum": "QLD 3 yr spread", "type": "nominal"}}},
  {"data": {"name": "VIC"}, "mark": {"type": "line", "strokeWidth": 3.5},
   "encoding": {"color": {"datum": "VIC 3 yr spread", "type": "nominal"}}}
]
}
